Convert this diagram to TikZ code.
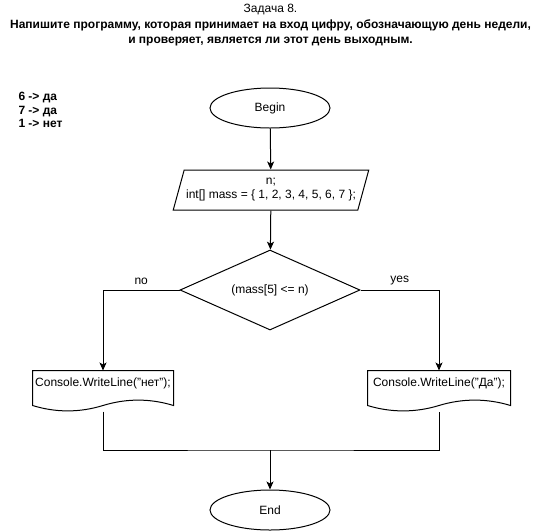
\documentclass[tikz,border=0pt]{standalone}
\usepackage{fontspec}
\setmainfont{Liberation Sans}
\usetikzlibrary{arrows.meta}
\usetikzlibrary{shapes.geometric, calc}

\begin{document}
\begin{tikzpicture}[x=1pt,y=-1pt,line width=1pt,
	every node/.style={font=\fontsize{12}{14}\selectfont,inner sep=0pt},
	term/.style={draw,ellipse,minimum width=120pt,minimum height=40pt},
	io/.style={draw,trapezium,trapezium left angle=65,trapezium right angle=115,trapezium stretches=true,minimum width=196pt,minimum height=40pt,align=center},
	cond/.style={draw,diamond,minimum width=180pt,minimum height=80pt,aspect=2.25},
	docbox/.style={minimum height=40pt},
	arr/.style={-{Stealth[length=8pt,width=7pt,inset=2pt]}}]
\useasboundingbox (0,0) rectangle (541,531);
\node (title) at (270.5,25.5) [align=center,font=\fontsize{12}{15.5}\selectfont]
	{Задача 8.\\\textbf{Напишите программу, которая принимает на вход цифру, обозначающую день недели,}\\\textbf{и проверяет, является ли этот день выходным.}};
\node (notes) at (18,110) [anchor=west,align=left,font=\fontsize{12}{13.5}\selectfont\bfseries]
	{6 -> да\\7 -> да\\1 -> нет};
\node[term] (begin) at (270,108) {Begin};
\node[io] (input) at (271,190) {n;\\int[] mass = \{ 1, 2, 3, 4, 5, 6, 7 \};};
\node[cond] (check) at (270,290) {(mass[5] <= n)};
\node[docbox,minimum width=140pt] (no) at (103,391) {};
\node at (103,383) {Console.WriteLine("нет");};
\node[docbox,minimum width=142pt] (yes) at (439,391) {};
\node at (439,383) {Console.WriteLine("Да");};
\node[term] (end) at (270,510) {End};
\coordinate (merge) at (270,450);
% wavy bottom of the output boxes
\foreach \d in {no,yes}
	\draw (\d.north west) -- (\d.north east) -- ($(\d.south east)+(0,6pt)$)
		.. controls ($(\d.south east)+(-23.5pt,13.2pt)$) and ($(\d.south)+(23.5pt,13.2pt)$) .. ($(\d.south)+(0,6pt)$)
		.. controls ($(\d.south)+(-23.5pt,-1.2pt)$) and ($(\d.south west)+(23.5pt,-1.2pt)$) .. ($(\d.south west)+(0,6pt)$)
		-- cycle;
\draw[arr] (begin) -- (input);
\draw[arr] (input) -- (check);
\draw[arr] (check.west) -| (no.north) node[pos=0.25,above=5pt] {no};
\draw[arr] (check.east) -| (yes.north) node[pos=0.25,above=5pt] {yes};
\draw (no.south) |- (merge) -| (yes.south);
\draw[arr] (merge) -- (end);
\end{tikzpicture}
\end{document}
